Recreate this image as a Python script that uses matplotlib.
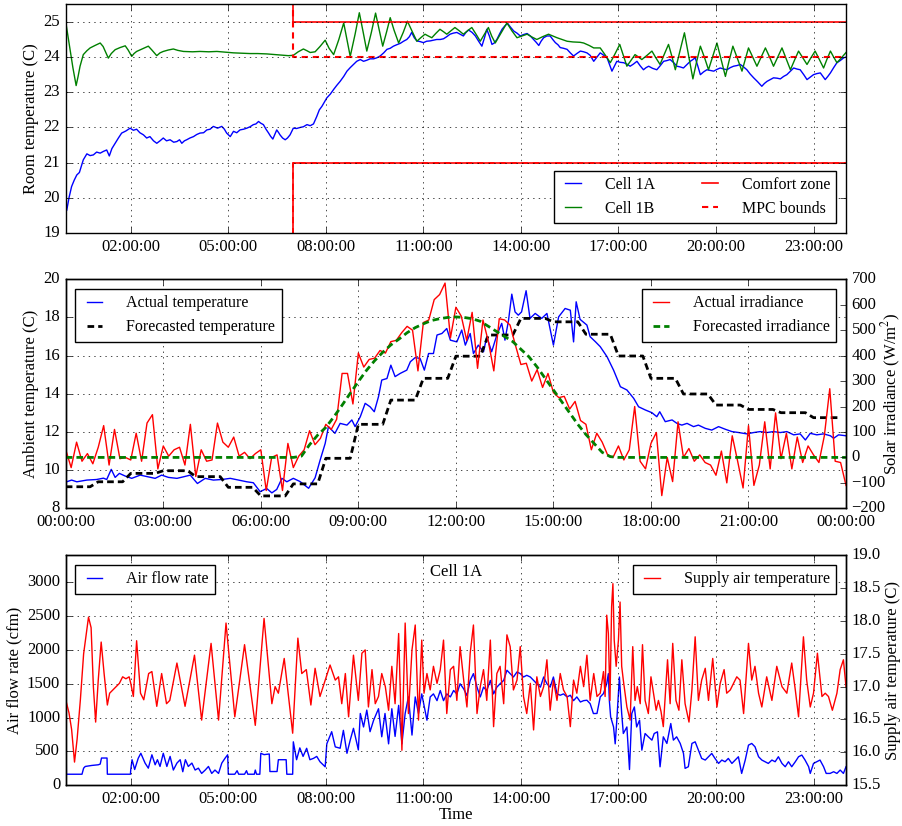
"""Three-panel MPC experiment plot: room temperatures, weather, supply air for cell 1A."""
import numpy as np
import matplotlib
matplotlib.use("Agg")
import matplotlib.pyplot as plt
from matplotlib.ticker import FixedLocator, FuncFormatter

plt.style.use("classic")
plt.rcParams.update({
    "font.family": ["Liberation Serif", "DejaVu Serif"],
    "mathtext.fontset": "stix",
    "figure.facecolor": "white",
    "savefig.facecolor": "white",
    "font.size": 12,
    "legend.fontsize": 11.5,
    "lines.scale_dashes": False,
})

# ---------------- panel 1: room temperature (hours, deg C) ----------------
t_1a = [0.0, 0.03, 0.1, 0.18, 0.26, 0.34, 0.42, 0.54, 0.65, 0.75, 0.85, 0.95, 1.06, 1.16, 1.26, 1.34,
        1.42, 1.52, 1.62, 1.72, 1.85, 1.98, 2.08, 2.18, 2.28, 2.39, 2.49, 2.59, 2.7, 2.8, 2.9, 3.0,
        3.1, 3.21, 3.32, 3.42, 3.5, 3.57, 3.65, 3.72, 3.82, 3.93, 4.03, 4.13, 4.24, 4.34, 4.44, 4.54,
        4.67, 4.8, 4.88, 4.95, 5.06, 5.16, 5.26, 5.36, 5.47, 5.57, 5.67, 5.77, 5.85, 5.93, 6.0, 6.08,
        6.16, 6.24, 6.3, 6.37, 6.43, 6.49, 6.55, 6.59, 6.67, 6.75, 6.82, 6.9, 7.0, 7.1, 7.21, 7.31,
        7.42, 7.52, 7.62, 7.72, 7.8, 7.88, 8.03, 8.14, 8.24, 8.34, 8.44, 8.55, 8.65, 8.75, 8.85, 8.95,
        9.06, 9.16, 9.26, 9.36, 9.47, 9.57, 9.67, 9.78, 9.88, 9.98, 10.08, 10.18, 10.29, 10.39, 10.49,
        10.57, 10.64, 10.72, 10.8, 10.9, 11.0, 11.1, 11.21, 11.31, 11.41, 11.52, 11.62, 11.72, 11.82,
        11.92, 12.03, 12.13, 12.23, 12.31, 12.39, 12.5, 12.6, 12.7, 12.8, 12.88, 12.95, 13.03, 13.11,
        13.18, 13.26, 13.34, 13.42, 13.5, 13.59, 13.68, 13.78, 13.88, 13.98, 14.08, 14.19, 14.29,
        14.39, 14.47, 14.55, 14.62, 14.7, 14.8, 14.9, 14.98, 15.06, 15.14, 15.21, 15.31, 15.42, 15.52,
        15.62, 15.72, 15.83, 15.93, 16.03, 16.13, 16.24, 16.34, 16.44, 16.55, 16.65, 16.72, 16.8,
        16.88, 16.95, 17.06, 17.16, 17.26, 17.36, 17.46, 17.57, 17.67, 17.77, 17.85, 17.93, 18.05,
        18.18, 18.29, 18.39, 18.49, 18.59, 18.7, 18.8, 18.9, 19.0, 19.1, 19.21, 19.29, 19.36, 19.44,
        19.52, 19.62, 19.72, 19.83, 19.93, 20.03, 20.13, 20.24, 20.34, 20.44, 20.54, 20.65, 20.75,
        20.85, 20.95, 21.05, 21.16, 21.28, 21.41, 21.49, 21.57, 21.67, 21.77, 21.88, 21.98, 22.08,
        22.18, 22.29, 22.39, 22.49, 22.59, 22.7, 22.8, 22.9, 23.0, 23.1, 23.21, 23.29, 23.36, 23.44,
        23.52, 23.62, 23.72, 23.82, 23.93, 24.0]
cell_1a = [19.9, 19.64, 20.0, 20.32, 20.5, 20.65, 20.72, 21.08, 21.25, 21.2, 21.22, 21.3, 21.27, 21.32,
           21.36, 21.19, 21.4, 21.55, 21.7, 21.84, 21.9, 21.98, 21.92, 21.95, 21.85, 21.79, 21.7, 21.74,
           21.62, 21.55, 21.62, 21.7, 21.62, 21.65, 21.58, 21.6, 21.65, 21.55, 21.62, 21.65, 21.7, 21.74,
           21.8, 21.84, 21.85, 21.93, 21.95, 22.03, 21.98, 22.03, 21.95, 21.84, 21.74, 21.89, 21.85,
           21.93, 21.95, 21.98, 22.02, 22.08, 22.1, 22.17, 22.12, 22.08, 21.95, 21.84, 21.75, 21.67,
           21.8, 21.93, 21.85, 21.79, 21.7, 21.65, 21.7, 21.79, 21.98, 21.97, 22.0, 22.02, 22.08, 22.05,
           22.1, 22.31, 22.5, 22.6, 22.84, 22.95, 23.08, 23.2, 23.31, 23.45, 23.6, 23.7, 23.79, 23.88,
           23.93, 23.88, 23.91, 23.95, 23.95, 23.98, 24.03, 24.12, 24.22, 24.25, 24.31, 24.35, 24.39,
           24.45, 24.5, 24.58, 24.7, 24.55, 24.46, 24.44, 24.41, 24.45, 24.46, 24.48, 24.5, 24.5, 24.52,
           24.58, 24.65, 24.68, 24.7, 24.65, 24.6, 24.7, 24.77, 24.7, 24.6, 24.45, 24.31, 24.55, 24.79,
           24.6, 24.36, 24.4, 24.5, 24.65, 24.79, 24.88, 24.96, 24.85, 24.74, 24.68, 24.6, 24.64, 24.67,
           24.6, 24.5, 24.42, 24.33, 24.45, 24.55, 24.6, 24.6, 24.5, 24.41, 24.35, 24.27, 24.25, 24.22,
           24.12, 24.03, 24.1, 24.17, 24.15, 24.12, 24.05, 23.88, 24.0, 24.12, 24.05, 23.98, 23.8, 23.6,
           23.75, 23.88, 23.85, 23.84, 23.8, 23.74, 23.8, 23.88, 23.75, 23.64, 23.7, 23.74, 23.68, 23.64,
           23.76, 23.88, 23.9, 23.93, 23.84, 23.74, 23.72, 23.69, 23.78, 23.88, 23.93, 23.98, 23.75,
           23.5, 23.58, 23.64, 23.62, 23.6, 23.65, 23.69, 23.66, 23.64, 23.7, 23.74, 23.76, 23.79, 23.72,
           23.64, 23.52, 23.41, 23.3, 23.17, 23.25, 23.31, 23.36, 23.41, 23.4, 23.38, 23.45, 23.5, 23.6,
           23.69, 23.66, 23.64, 23.5, 23.36, 23.43, 23.5, 23.53, 23.55, 23.45, 23.36, 23.45, 23.55, 23.7,
           23.84, 23.9, 23.98, 24.0]

t_1b = [0.0, 0.05, 0.13, 0.22, 0.32, 0.38, 0.44, 0.54, 0.65, 0.75, 0.9, 1.06, 1.15, 1.31, 1.4, 1.52,
        1.67, 1.83, 1.92, 2.03, 2.1, 2.18, 2.35, 2.54, 2.65, 2.8, 2.9, 3.0, 3.15, 3.31, 3.45, 3.62,
        3.9, 4.13, 4.4, 4.65, 4.9, 5.16, 5.4, 5.67, 5.9, 6.18, 6.45, 6.7, 6.85, 7.0, 7.15, 7.31, 7.42,
        7.52, 7.67, 7.82, 7.98, 8.1, 8.24, 8.4, 8.55, 8.65, 8.75, 8.9, 9.03, 9.15, 9.26, 9.4, 9.53,
        9.64, 9.75, 9.87, 9.98, 10.1, 10.24, 10.38, 10.51, 10.65, 10.8, 10.92, 11.05, 11.15, 11.26,
        11.38, 11.51, 11.62, 11.72, 11.85, 11.97, 12.1, 12.23, 12.36, 12.49, 12.62, 12.75, 12.88, 13.0,
        13.1, 13.21, 13.4, 13.57, 13.72, 13.88, 14.03, 14.19, 14.34, 14.49, 14.67, 14.85, 14.98, 15.11,
        15.26, 15.42, 15.6, 15.82, 15.93, 16.1, 16.24, 16.44, 16.6, 16.75, 16.9, 17.04, 17.15, 17.26,
        17.38, 17.51, 17.62, 17.72, 17.88, 18.03, 18.15, 18.28, 18.41, 18.54, 18.65, 18.75, 18.89,
        19.03, 19.16, 19.29, 19.4, 19.52, 19.65, 19.77, 19.9, 20.03, 20.16, 20.29, 20.4, 20.52, 20.66,
        20.8, 20.9, 21.0, 21.13, 21.26, 21.39, 21.52, 21.65, 21.77, 21.9, 22.03, 22.16, 22.29, 22.41,
        22.54, 22.67, 22.8, 22.92, 23.05, 23.18, 23.31, 23.41, 23.52, 23.62, 23.72, 23.86, 24.0]
cell_1b = [25.0, 24.7, 24.2, 23.7, 23.19, 23.45, 23.74, 24.07, 24.18, 24.26, 24.33, 24.4, 24.3, 23.97,
           24.1, 24.21, 24.27, 24.32, 24.2, 24.02, 24.1, 24.16, 24.23, 24.31, 24.2, 24.04, 24.12, 24.16,
           24.2, 24.23, 24.19, 24.16, 24.15, 24.16, 24.15, 24.16, 24.14, 24.12, 24.11, 24.1, 24.1,
           24.09, 24.07, 24.05, 24.04, 24.05, 24.15, 24.23, 24.18, 24.13, 24.15, 24.3, 24.48, 24.25,
           24.07, 24.5, 24.97, 24.5, 24.02, 24.65, 25.26, 24.7, 24.17, 24.7, 25.25, 24.78, 24.31, 24.72,
           25.12, 24.76, 24.4, 24.7, 25.02, 24.74, 24.45, 24.55, 24.65, 24.6, 24.55, 24.67, 24.79, 24.72,
           24.65, 24.75, 24.84, 24.75, 24.65, 24.75, 24.84, 24.65, 24.45, 24.65, 24.84, 24.6, 24.4,
           24.7, 24.97, 24.75, 24.55, 24.6, 24.65, 24.57, 24.5, 24.58, 24.65, 24.6, 24.55, 24.5, 24.45,
           24.43, 24.42, 24.4, 24.33, 24.26, 24.26, 24.05, 23.84, 24.1, 24.36, 24.05, 23.74, 23.9, 24.07,
           24.0, 23.93, 24.05, 24.17, 23.98, 23.79, 24.08, 24.36, 24.0, 23.64, 24.17, 24.69, 24.03,
           23.38, 23.85, 24.31, 23.98, 23.64, 24.02, 24.4, 23.93, 23.45, 23.88, 24.31, 23.96, 23.6, 23.93,
           24.26, 24.0, 23.74, 24.0, 24.26, 24.0, 23.74, 24.0, 24.26, 23.95, 23.64, 23.9, 24.17, 23.98,
           23.79, 23.98, 24.17, 23.93, 23.69, 23.93, 24.17, 24.0, 23.84, 23.98, 24.13]

bound_t = [0.0, 7.0, 24.0]
comfort_hi = [30.0, 25.0, 25.0]
comfort_lo = [15.0, 21.0, 21.0]
mpc_hi = [30.0, 24.0, 24.0]
mpc_lo = [15.0, 21.0, 21.0]

# ---------------- panel 2: weather ----------------
t_amb = [0.0, 0.03, 0.18, 0.34, 0.65, 0.95, 1.16, 1.26, 1.4, 1.52, 1.65, 1.83, 2.03, 2.29, 2.54, 2.75,
         2.95, 3.16, 3.42, 3.62, 3.83, 4.05, 4.29, 4.54, 4.8, 5.06, 5.31, 5.57, 5.77, 5.98, 6.18, 6.34,
         6.49, 6.65, 6.8, 7.0, 7.21, 7.47, 7.67, 7.82, 7.98, 8.08, 8.28, 8.44, 8.65, 8.8, 8.9, 9.06,
         9.21, 9.36, 9.49, 9.62, 9.72, 9.88, 10.0, 10.13, 10.29, 10.49, 10.6, 10.75, 10.9, 11.03,
         11.16, 11.31, 11.42, 11.57, 11.72, 11.83, 12.03, 12.18, 12.29, 12.44, 12.54, 12.69, 12.85,
         12.95, 13.1, 13.26, 13.41, 13.51, 13.62, 13.72, 13.82, 13.92, 14.02, 14.16, 14.28, 14.44,
         14.64, 14.8, 15.0, 15.16, 15.36, 15.52, 15.62, 15.7, 15.82, 16.03, 16.13, 16.29, 16.44, 16.65,
         16.85, 17.06, 17.26, 17.47, 17.62, 17.83, 18.03, 18.18, 18.27, 18.44, 18.65, 18.8, 18.95,
         19.11, 19.31, 19.46, 19.67, 19.87, 20.08, 20.29, 20.49, 20.7, 20.95, 21.16, 21.36, 21.57,
         21.77, 21.98, 22.18, 22.39, 22.59, 22.75, 22.9, 23.1, 23.31, 23.52, 23.62, 23.77, 24.0]
amb_temp = [9.45, 9.39, 9.48, 9.39, 9.48, 9.51, 9.58, 9.51, 10.04, 9.62, 9.83, 9.69, 9.57, 9.74, 9.65,
            9.57, 9.74, 9.62, 9.57, 9.65, 9.74, 9.3, 9.57, 9.48, 9.51, 9.57, 9.48, 9.39, 9.34, 8.87,
            9.04, 8.81, 8.99, 9.57, 9.39, 9.57, 9.4, 9.05, 9.6, 10.5, 11.4, 12.28, 11.93, 12.45, 12.36,
            12.63, 12.28, 12.8, 13.5, 13.32, 13.06, 13.85, 14.72, 14.8, 15.5, 14.9, 15.07, 15.24, 15.68,
            15.9, 15.85, 15.24, 16.11, 16.11, 17.08, 17.16, 17.42, 16.81, 16.72, 17.34, 16.55, 17.16,
            16.11, 16.55, 16.2, 16.99, 16.2, 17.08, 17.69, 16.81, 17.86, 19.22, 18.29, 18.12, 18.29,
            19.4, 17.95, 18.21, 17.95, 18.21, 16.55, 18.03, 18.47, 18.38, 16.72, 18.82, 17.9, 17.6,
            16.99, 16.73, 16.47, 15.94, 15.24, 14.37, 14.2, 13.76, 13.32, 13.15, 13.01, 12.8, 13.06,
            12.54, 12.63, 12.45, 12.36, 12.45, 12.28, 12.36, 12.19, 12.1, 12.28, 12.14, 12.02, 11.97,
            11.9, 11.97, 12.02, 11.97, 12.02, 11.97, 12.02, 11.85, 11.9, 11.58, 11.93, 11.85, 11.9, 11.8,
            11.67, 11.85, 11.8]

# hourly forecast of ambient temperature, hours 0..23
fc_temp = [9.13, 9.39, 9.83, 9.97, 9.66, 9.1, 8.65, 9.28, 10.62, 12.4, 13.67, 14.81, 15.97, 17.08,
           17.95, 17.77, 17.12, 15.98, 14.81, 13.99, 13.41, 13.18, 13.01, 12.75]

# actual solar irradiance, 10-minute samples from 00:00 to 24:00
irr_actual = [30, -40, 60, -15, 15, -25, 40,
              125, -30, 110, -5, 0, -10,
              95, -15, 135, 168, -45, 45,
              5, 30, 40, -30, 130, -75,
              30, -15, -10, 135, 60, 40,
              80, 5, 20, -5, 15, 30,
              -130, 0, 10, -130, 55, -40,
              5, 30, 105, 50, 75, 130,
              110, 150, 330, 330, 210, 410,
              355, 385, 390, 420, 410, 455,
              460, 490, 515, 500, 340, 530,
              540, 620, 640, 685, 470, 590,
              555, 460, 570, 350, 540, 455,
              340, 545, 540, 520, 440, 365,
              370, 300, 345, 275, 330, 255,
              235, 240, 190, 220, 145, 130,
              30, 95, 60, 10, 0, 45,
              -10, 30, 200, -15, -45, 55,
              98, -150, 0, -95, 140, 0,
              35, -15, 10, -20, -30, -70,
              25, -100, 85, -15, -120, 125,
              -110, -30, 140, -45, 175, -5,
              95, -45, 80, -20, 45, 10,
              -20, 85, 270, -15, -20, -110]

t_fc_irr = [0.0, 7.0, 7.25, 7.5, 7.75, 8.0, 8.25, 8.5, 8.75, 9.0, 9.25, 9.5, 9.75, 10.0, 10.25, 10.5,
            10.75, 11.0, 11.25, 11.5, 11.75, 12.0, 12.25, 12.5, 12.75, 13.0, 13.25, 13.5, 13.75, 14.0,
            14.25, 14.5, 14.75, 15.0, 15.25, 15.5, 15.75, 16.0, 16.25, 16.5, 16.75, 17.0, 24.0]
fc_irr = [0, 0, 5, 50, 88, 118, 160, 205, 252, 298, 342, 380, 413, 442, 465, 490, 510, 525, 538, 545,
          550, 552, 550, 545, 535, 515, 495, 475, 455, 425, 395, 355, 310, 265, 220, 175, 130, 90, 55,
          20, 3, 0, 0]

# ---------------- panel 3: cell 1A air side ----------------
t_flow = [0.0, 0.02, 0.5, 0.55, 0.6, 0.8, 1.0, 1.06, 1.1, 1.27, 1.28, 1.99, 2.0, 2.04, 2.12, 2.23, 2.31,
          2.44, 2.54, 2.65, 2.75, 2.82, 2.9, 3.0, 3.11, 3.21, 3.31, 3.42, 3.52, 3.6, 3.68, 3.77, 3.88,
          3.98, 4.08, 4.18, 4.29, 4.39, 4.49, 4.59, 4.7, 4.8, 4.9, 4.98, 5.0, 5.2, 5.27, 5.32, 5.5,
          5.56, 5.6, 5.8, 5.83, 5.87, 5.97, 6.0, 6.1, 6.26, 6.28, 6.5, 6.54, 6.78, 6.8, 6.98, 7.0, 7.1,
          7.2, 7.3, 7.41, 7.51, 7.62, 7.72, 7.82, 7.98, 8.03, 8.18, 8.29, 8.44, 8.54, 8.65, 8.75, 8.85,
          9.0, 9.06, 9.16, 9.26, 9.36, 9.47, 9.62, 9.72, 9.82, 9.93, 10.03, 10.13, 10.24, 10.34, 10.44,
          10.54, 10.65, 10.75, 10.85, 10.95, 11.11, 11.21, 11.31, 11.42, 11.52, 11.62, 11.72, 11.83,
          11.93, 12.03, 12.13, 12.24, 12.34, 12.44, 12.54, 12.65, 12.75, 12.85, 12.95, 13.06, 13.16,
          13.26, 13.36, 13.47, 13.57, 13.67, 13.77, 13.88, 13.98, 14.08, 14.18, 14.29, 14.39, 14.49,
          14.6, 14.7, 14.8, 14.9, 15.0, 15.11, 15.21, 15.31, 15.42, 15.52, 15.62, 15.72, 15.83, 15.93,
          16.03, 16.13, 16.23, 16.34, 16.44, 16.54, 16.64, 16.69, 16.72, 16.76, 16.85, 16.9, 16.95,
          17.03, 17.1, 17.15, 17.26, 17.34, 17.41, 17.49, 17.56, 17.65, 17.72, 17.82, 17.92, 18.03,
          18.1, 18.2, 18.28, 18.38, 18.49, 18.61, 18.69, 18.79, 18.9, 19.0, 19.05, 19.15, 19.26, 19.36,
          19.46, 19.56, 19.67, 19.77, 19.87, 19.97, 20.08, 20.18, 20.28, 20.38, 20.49, 20.59, 20.69,
          20.79, 20.9, 21.0, 21.1, 21.2, 21.31, 21.41, 21.51, 21.61, 21.72, 21.82, 21.92, 22.03, 22.13,
          22.23, 22.33, 22.44, 22.54, 22.64, 22.74, 22.85, 22.9, 23.0, 23.1, 23.2, 23.31, 23.39, 23.51,
          23.62, 23.72, 23.82, 23.92, 24.0]
air_flow = [1500, 160, 160, 250, 275, 290, 300, 310, 400, 400, 160, 160, 230, 375, 230, 397, 470, 325,
            250, 448, 300, 375, 275, 470, 275, 424, 222, 325, 375, 197, 375, 275, 325, 222, 250, 172,
            222, 275, 172, 222, 172, 325, 397, 448, 160, 160, 212, 160, 160, 212, 160, 160, 222, 160,
            160, 470, 450, 460, 200, 200, 375, 375, 160, 160, 640, 375, 550, 424, 544, 375, 395, 424,
            345, 270, 610, 790, 565, 545, 810, 470, 665, 840, 520, 1060, 860, 1110, 790, 960, 1130,
            715, 1060, 610, 1130, 720, 1180, 610, 1060, 1305, 740, 1305, 1060, 1350, 960, 1305, 1350,
            1250, 1400, 1250, 1350, 1305, 1400, 1350, 1500, 1425, 1325, 1550, 1650, 1450, 1305, 1450,
            1400, 1550, 1350, 1450, 1500, 1550, 1700, 1650, 1600, 1675, 1650, 1600, 1625, 1600, 1550,
            1500, 1450, 1600, 1500, 1450, 1600, 1350, 1330, 1350, 1305, 1330, 1250, 1305, 1230, 1250,
            1256, 1205, 1059, 1060, 1305, 1355, 1502, 1650, 1256, 1010, 860, 610, 960, 1600, 1059, 763,
            860, 230, 1059, 1157, 860, 960, 517, 763, 714, 665, 763, 788, 270, 714, 616, 911, 665, 714,
            616, 470, 247, 271, 616, 640, 517, 394, 370, 419, 468, 394, 320, 370, 345, 394, 320, 370,
            419, 172, 370, 591, 616, 567, 419, 370, 345, 320, 370, 345, 419, 320, 271, 345, 271, 345,
            419, 444, 370, 271, 172, 320, 345, 370, 271, 172, 172, 197, 172, 222, 172, 271]

t_supply = [0.0, 0.1, 0.18, 0.27, 0.35, 0.45, 0.55, 0.7, 0.78, 0.85, 0.92, 1.0, 1.09, 1.18, 1.28, 1.35,
            1.45, 1.55, 1.65, 1.75, 1.85, 1.95, 2.0, 2.08, 2.18, 2.3, 2.4, 2.55, 2.65, 2.8, 2.95, 3.1,
            3.2, 3.42, 3.67, 3.96, 4.18, 4.47, 4.7, 4.93, 5.2, 5.5, 5.83, 6.1, 6.34, 6.44, 6.54, 6.72,
            6.98, 7.14, 7.26, 7.4, 7.54, 7.67, 7.82, 7.98, 8.13, 8.29, 8.39, 8.49, 8.6, 8.7, 8.85, 9.0,
            9.11, 9.21, 9.31, 9.42, 9.52, 9.62, 9.72, 9.83, 9.93, 10.03, 10.13, 10.24, 10.34, 10.44,
            10.54, 10.65, 10.75, 10.85, 10.95, 11.02, 11.11, 11.21, 11.31, 11.42, 11.52, 11.62, 11.72,
            11.83, 11.93, 12.03, 12.13, 12.24, 12.34, 12.44, 12.54, 12.65, 12.75, 12.85, 12.95, 13.06,
            13.16, 13.26, 13.36, 13.47, 13.57, 13.67, 13.77, 13.88, 13.98, 14.08, 14.18, 14.29, 14.39,
            14.49, 14.6, 14.7, 14.8, 14.9, 15.0, 15.11, 15.21, 15.31, 15.42, 15.52, 15.62, 15.72, 15.83,
            15.93, 16.03, 16.13, 16.24, 16.34, 16.44, 16.54, 16.59, 16.64, 16.69, 16.74, 16.79, 16.83,
            16.87, 16.93, 17.0, 17.05, 17.1, 17.15, 17.26, 17.36, 17.44, 17.51, 17.58, 17.67, 17.74,
            17.82, 17.92, 18.0, 18.08, 18.16, 18.23, 18.31, 18.38, 18.51, 18.59, 18.67, 18.77, 18.86,
            18.95, 19.05, 19.17, 19.26, 19.36, 19.46, 19.56, 19.67, 19.77, 19.9, 20.03, 20.13, 20.25,
            20.33, 20.44, 20.54, 20.64, 20.74, 20.85, 21.0, 21.1, 21.2, 21.31, 21.41, 21.56, 21.72,
            21.87, 22.03, 22.18, 22.33, 22.44, 22.54, 22.69, 22.79, 22.9, 23.0, 23.12, 23.26, 23.36,
            23.46, 23.58, 23.72, 23.82, 23.92, 24.0]
supply_temp = [16.8, 16.6, 16.35, 15.85, 16.2, 16.8, 17.5, 18.06, 17.9, 17.0, 16.46, 17.1, 17.68, 17.2,
               16.72, 16.9, 16.95, 17.0, 17.05, 17.15, 17.12, 17.15, 17.05, 16.85, 17.7, 16.9, 16.8,
               17.2, 17.23, 16.7, 17.2, 16.74, 16.79, 17.36, 16.7, 17.48, 16.49, 17.66, 16.49, 17.97,
               16.54, 17.64, 16.41, 18.04, 16.74, 17.0, 16.9, 17.43, 16.29, 17.74, 17.2, 17.26, 16.72,
               17.28, 16.85, 17.1, 17.33, 17.1, 17.15, 16.74, 17.2, 16.54, 17.48, 16.79, 17.51, 17.56,
               16.69, 17.26, 16.74, 16.85, 17.2, 17.0, 16.64, 17.31, 16.74, 17.81, 16.03, 17.97, 16.59,
               17.56, 17.94, 16.49, 17.71, 16.9, 17.2, 16.95, 17.31, 17.05, 17.26, 17.71, 16.59, 17.26,
               17.31, 16.79, 17.61, 17.1, 16.69, 17.51, 17.94, 16.59, 17.0, 17.26, 16.79, 17.71, 16.39,
               17.2, 17.31, 16.74, 17.79, 17.61, 16.95, 17.1, 17.61, 16.85, 16.59, 17.05, 16.34, 17.15,
               16.85, 17.0, 17.41, 16.64, 17.1, 16.79, 17.2, 16.95, 16.85, 16.39, 17.1, 16.9, 17.31,
               17.0, 17.48, 16.79, 17.2, 16.85, 16.9, 17.23, 16.85, 18.09, 17.81, 16.79, 18.22, 18.57,
               17.71, 17.31, 17.71, 18.29, 17.31, 17.1, 16.69, 16.49, 17.61, 16.79, 17.0, 16.74, 17.64,
               16.79, 16.59, 17.15, 16.9, 16.64, 16.79, 16.62, 16.39, 17.41, 16.74, 17.66, 16.79, 16.64,
               17.41, 16.74, 16.46, 16.95, 17.76, 16.79, 17.1, 17.28, 16.79, 17.43, 16.69, 17.05, 17.26,
               16.9, 16.95, 17.05, 17.15, 17.1, 16.59, 17.66, 17.1, 17.31, 16.9, 16.69, 17.15, 16.79,
               17.31, 17.0, 16.9, 17.36, 16.95, 16.54, 17.76, 17.1, 16.69, 16.9, 17.51, 16.85, 16.9,
               16.85, 16.64, 16.9, 17.26, 17.41, 17.0]


def hhmmss(x, pos):
    m = int(round(x * 60))
    return f"{(m // 60) % 24:02d}:{m % 60:02d}:00"


def time_axis(ax, ticks):
    ax.set_xlim(0, 24)
    ax.xaxis.set_major_locator(FixedLocator(ticks))
    ax.xaxis.set_major_formatter(FuncFormatter(hhmmss))
    ax.grid(True)


LEG = dict(handlelength=1.6, handletextpad=1.2, fancybox=False, borderaxespad=0.6)

fig = plt.figure(figsize=(9.03, 8.26), dpi=100)
L, W = 0.0728, 0.8641

# --- panel 1
ax1 = fig.add_axes([L, 0.7179, W, 0.2769])
ax1.plot(t_1a, cell_1a, color="b", lw=1.0, label="Cell 1A")
ax1.plot(t_1b, cell_1b, color="g", lw=1.0, label="Cell 1B")
ax1.plot(bound_t, comfort_hi, color="r", lw=1.2, drawstyle="steps-post", label="Comfort zone")
ax1.plot(bound_t, mpc_hi, color="r", lw=1.5, drawstyle="steps-post", dashes=(4.5, 3.5), label="MPC bounds")
ax1.plot(bound_t, comfort_lo, color="r", lw=1.2, drawstyle="steps-post")
ax1.plot(bound_t, mpc_lo, color="r", lw=1.2, drawstyle="steps-post", dashes=(4.5, 3.5))
ax1.set_ylim(19, 25.5)
ax1.set_yticks(range(19, 26))
time_axis(ax1, range(2, 24, 3))
ax1.set_ylabel("Room temperature (C)", labelpad=3)
ax1.legend(loc="lower right", ncol=2, columnspacing=2.6, **LEG)

# --- panel 2
ax2 = fig.add_axes([L, 0.3846, W, 0.2773])
fc_x, fc_y = [], []
for h, v in enumerate(fc_temp):
    fc_x += [h, h + 0.75]
    fc_y += [v, v]
ax2.plot(t_amb, amb_temp, color="b", lw=1.0, label="Actual temperature")
ax2.plot(fc_x, fc_y, color="k", lw=2.0, dashes=(4.8, 2.9), label="Forecasted temperature")
ax2.set_ylim(8, 20)
ax2.set_yticks(range(8, 21, 2))
time_axis(ax2, range(0, 25, 3))
ax2.set_ylabel("Ambient temperature (C)", labelpad=3)
ax2.legend(loc="upper left", **LEG)

ax2r = ax2.twinx()
t_irr = np.arange(len(irr_actual)) / 6.0
ax2r.plot(t_irr, irr_actual, color="r", lw=1.0, label="Actual irradiance")
ax2r.plot(t_fc_irr, fc_irr, color="g", lw=2.0, dashes=(4.8, 2.9), label="Forecasted irradiance")
ax2r.set_ylim(-200, 700)
ax2r.set_yticks(range(-200, 701, 100))
ax2r.set_xlim(0, 24)
ax2r.set_ylabel("Solar irradiance (W/m$^2$)", labelpad=-4)
ax2r.legend(loc="upper right", **LEG)

# --- panel 3
ax3 = fig.add_axes([L, 0.0496, W, 0.2779])
ax3.plot(t_flow, air_flow, color="b", lw=1.0, label="Air flow rate")
ax3.set_ylim(0, 3400)
ax3.set_yticks(range(0, 3001, 500))
time_axis(ax3, range(2, 24, 3))
ax3.set_ylabel("Air flow rate (cfm)", labelpad=3)
ax3.set_xlabel("Time", labelpad=0)
ax3.legend(loc="upper left", **LEG)
ax3.text(0.5, 0.965, "Cell 1A", transform=ax3.transAxes, ha="center", va="top")

ax3r = ax3.twinx()
ax3r.plot(t_supply, supply_temp, color="r", lw=1.0, label="Supply air temperature")
ax3r.set_ylim(15.5, 19.0)
ax3r.set_yticks(np.arange(15.5, 19.01, 0.5))
ax3r.yaxis.set_major_formatter(FuncFormatter(lambda v, p: f"{v:.1f}"))
ax3r.set_xlim(0, 24)
ax3r.set_ylabel("Supply air temperature (C)", labelpad=3)
ax3r.legend(loc="upper right", **LEG)

fig.savefig("out.png", dpi=100)
